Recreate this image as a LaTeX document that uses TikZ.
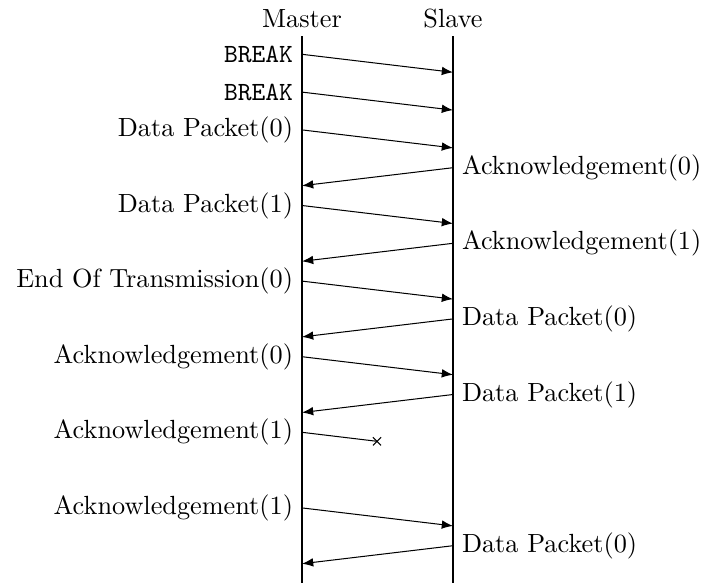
\documentclass[tikz,border=0pt]{standalone}
\usetikzlibrary{arrows.meta,shapes.misc}
\begin{document}
\begin{tikzpicture}[x=0.39216pt,y=-0.39216pt,
  every node/.style={font=\fontsize{10.3pt}{12.4pt}\selectfont},
  msg/.style={-{Latex[length=4.4pt,width=3.4pt]}},
  life/.style={line width=0.5pt},
  lleft/.style={anchor=east},
  lright/.style={anchor=west},
  lost/.style={cross out,draw,minimum size=2.8pt,inner sep=0pt}]
\useasboundingbox (0,0) rectangle (704,583);
% lifelines
\coordinate (mtop) at (302,36); \coordinate (mbot) at (302,583);
\coordinate (stop) at (453,36); \coordinate (sbot) at (453,583);
\node[anchor=base] (master) at (302,27) {Master};
\node[anchor=base] (slave) at (453,27) {Slave};
\draw[life] (mtop) -- (mbot);
\draw[life] (stop) -- (sbot);
% message endpoints
\foreach \i in {0,...,13}{
  \pgfmathsetmacro{\ya}{54.3+37.8*\i}
  \pgfmathsetmacro{\yb}{54.3+37.8*\i+18}
  \coordinate (m\i) at (302,\ya);
  \coordinate (s\i) at (453,\ya);
  \coordinate (mb\i) at (302,\yb);
  \coordinate (sb\i) at (453,\yb);
}
\coordinate (x10) at (377,441.3);
% labels
\node[lleft] (l0) at (m0) {\texttt{BREAK}};
\node[lleft] (l1) at (m1) {\texttt{BREAK}};
\node[lleft] (l2) at (m2) {Data Packet(0)};
\node[lright] (l3) at (s3) {Acknowledgement(0)};
\node[lleft] (l4) at (m4) {Data Packet(1)};
\node[lright] (l5) at (s5) {Acknowledgement(1)};
\node[lleft] (l6) at (m6) {End Of Transmission(0)};
\node[lright] (l7) at (s7) {Data Packet(0)};
\node[lleft] (l8) at (m8) {Acknowledgement(0)};
\node[lright] (l9) at (s9) {Data Packet(1)};
\node[lleft] (l10) at (m10) {Acknowledgement(1)};
\node[lleft] (l12) at (m12) {Acknowledgement(1)};
\node[lright] (l13) at (s13) {Data Packet(0)};
% messages
\draw[msg] (m0) -- (sb0);
\draw[msg] (m1) -- (sb1);
\draw[msg] (m2) -- (sb2);
\draw[msg] (s3) -- (mb3);
\draw[msg] (m4) -- (sb4);
\draw[msg] (s5) -- (mb5);
\draw[msg] (m6) -- (sb6);
\draw[msg] (s7) -- (mb7);
\draw[msg] (m8) -- (sb8);
\draw[msg] (s9) -- (mb9);
\draw (m10) -- (x10);
\node[lost] (cross) at (x10) {};
\draw[msg] (m12) -- (sb12);
\draw[msg] (s13) -- (mb13);
\end{tikzpicture}
\end{document}
